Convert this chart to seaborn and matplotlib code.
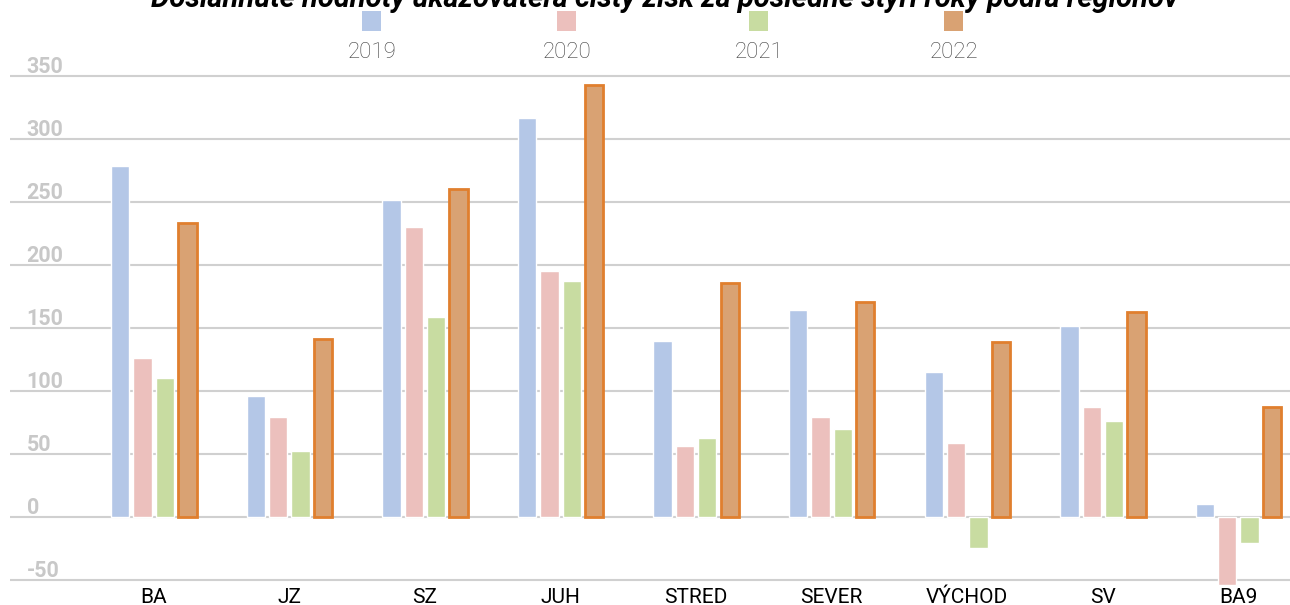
import matplotlib
matplotlib.use("Agg")
import matplotlib.pyplot as plt
import matplotlib.patches as mpatches
import matplotlib.transforms as mtrans
import seaborn as sns
import pandas as pd

# data
regions = ["BA", "JZ", "SZ", "JUH", "STRED", "SEVER", "VÝCHOD", "SV", "BA9"]
years = ["2019", "2020", "2021", "2022"]
v2019 = [279, 96, 252, 317, 140, 164, 115, 152, 10]
v2020 = [126, 79, 230, 195, 56, 79, 59, 87, -54]
v2021 = [110, 52, 159, 187, 63, 70, -25, 76, -21]
v2022 = [233, 141, 260, 343, 186, 171, 139, 163, 87]
yticks = [-50, 0, 50, 100, 150, 200, 250, 300, 350]

colors = ["#B4C7E7", "#ECC0BD", "#C8DCA1", "#D9A273"]
edge22 = "#E07F2E"

rows = []
for yr, vals in zip(years, [v2019, v2020, v2021, v2022]):
    for r, v in zip(regions, vals):
        rows.append([r, yr, v])
df = pd.DataFrame(rows, columns=["region", "year", "value"])

sns.set_style("white")
plt.rcParams["font.family"] = ["Roboto", "DejaVu Sans"]

fig = plt.figure(figsize=(12.9, 6.05), dpi=100)
ax = fig.add_axes([0.0078, 0.031, 0.9922, 0.864])

sns.barplot(data=df, x="region", y="value", hue="year", palette=colors,
            width=0.66, gap=0.18, ax=ax, legend=False, saturation=1)

for p in ax.containers[3]:
    p.set_edgecolor(edge22)
    p.set_linewidth(2)

ax.set_xlim(-1.06, 8.38)
ax.set_ylim(-55, 360)
ax.set_yticks(yticks)
ax.set_yticklabels([])
ax.tick_params(axis="y", length=0)
ax.tick_params(axis="x", length=0, pad=1, labelsize=15, labelcolor="#000000")
ax.yaxis.grid(True, color="#D0D0D0", linewidth=1.5)
ax.set_axisbelow(True)
for s in ax.spines.values():
    s.set_visible(False)
ax.set_xlabel("")
ax.set_ylabel("")

# y labels sit just above gridlines, at left
trans = mtrans.blended_transform_factory(ax.transAxes, ax.transData)
for t in yticks:
    ax.text(0.013, t - 1.5, str(t), transform=trans, ha="left", va="bottom",
            fontsize=15.5, fontweight="bold", color="#C8C8C8")

# legend: swatch above label
leg_x = [372, 567, 759, 954]
for x, c, yr in zip(leg_x, colors, years):
    fig.patches.append(mpatches.Rectangle(((x - 10) / 1290, 1 - 31 / 605), 19 / 1290, 20 / 605,
                                          transform=fig.transFigure, facecolor=c, edgecolor="none"))
    fig.text(x / 1290, 1 - 52 / 605, yr, ha="center", va="center",
             fontsize=16, fontweight="light", color="#404040")

# title, mostly cut off at top as in the source
fig.text(0.515, 1 - 7 / 605, "Dosiahnuté hodnoty ukazovateľa čistý zisk za posledné štyri roky podľa regiónov",
         ha="center", va="baseline", fontsize=21, fontweight="bold", fontstyle="italic", color="#000000")

fig.savefig("out.png", dpi=100)
